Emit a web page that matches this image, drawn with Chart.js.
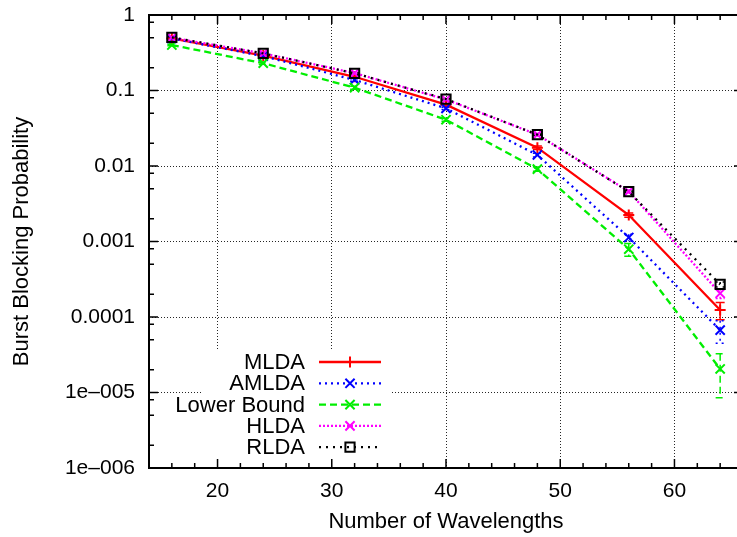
<!DOCTYPE html>
<html>
<head>
<meta charset="utf-8">
<script src="https://cdn.jsdelivr.net/npm/chart.js"></script>
<style>
html, body { margin: 0; padding: 0; background: #fff; overflow: hidden; }
#wrap { width: 760px; height: 537px; }
</style>
</head>
<body>
<div id="wrap"><canvas id="blockingChart" width="760" height="537"></canvas></div>
<script>
// values
var wavelengths = [16, 24, 32, 40, 48, 56, 64];
var mlda       = [0.49, 0.29, 0.152, 0.065, 0.0175, 0.00224, 0.000124];
var amlda      = [0.49, 0.285, 0.138, 0.058, 0.014, 0.00113, 0.000067];
var lowerBound = [0.40, 0.23, 0.109, 0.041, 0.0091, 0.00079, 0.0000205];
var hlda       = [0.50, 0.31, 0.17, 0.076, 0.026, 0.0046, 0.000206];
var rlda       = [0.505, 0.31, 0.169, 0.077, 0.026, 0.00457, 0.00027];

// error bar half-widths
var mldaErr  = [0.01, 0.008, 0.005, 0.002, 0.0009, 0.00015, 0.000032];
var amldaErr = [0.01, 0.008, 0.005, 0.002, 0.0008, 0.00012, 0.000022];
var lowerErr = [0.01, 0.008, 0.005, 0.002, 0.0006, 0.00015, 0.000012];
var hldaErr  = [0.01, 0.006, 0.004, 0.002, 0.001, 0.0002, 0.00003];
var rldaErr  = [0.01, 0.006, 0.003, 0.0015, 0.0005, 0.0001, 0.00002];

var seriesNames = ['MLDA', 'AMLDA', 'Lower Bound', 'HLDA', 'RLDA'];
var yTickValues = [1, 0.1, 0.01, 0.001, 0.0001, 0.00001, 0.000001];
var yTickLabels = ['1', '0.1', '0.01', '0.001', '0.0001', '1e\u2013005', '1e\u2013006'];
var xMajorStep = 10;

var FONT = "'Liberation Sans', Arial, Helvetica, sans-serif";

var styles = [
    { color: '#ff0000', dash: [],     point: 'cross',    radius: 5.5 },
    { color: '#0000ff', dash: [2, 4], point: 'crossRot', radius: 6.5 },
    { color: '#00ee00', dash: [7, 4], point: 'crossRot', radius: 6.5 },
    { color: '#ff00ff', dash: [2, 2], point: 'crossRot', radius: 6.5 },
    { color: '#000000', dash: [2, 5], point: 'rect',     radius: 6.5 }
];
var allValues = [mlda, amlda, lowerBound, hlda, rlda];
var allErrors = [mldaErr, amldaErr, lowerErr, hldaErr, rldaErr];

function toPoints(values) {
    return wavelengths.map(function (x, i) { return { x: x, y: values[i] }; });
}

// minor ticks like the gnuplot output: 2, 5, 8 within each decade
var yAllTicks = [];
yTickValues.forEach(function (d) {
    yAllTicks.push(d);
    if (d < 1) {
        yAllTicks.push(d * 2, d * 5, d * 8);
    }
});

var datasets = seriesNames.map(function (name, i) {
    var s = styles[i];
    return {
        label: name,
        data: toPoints(allValues[i]),
        borderColor: s.color,
        borderWidth: 2.3,
        borderDash: s.dash,
        pointStyle: s.point,
        pointRadius: s.radius,
        pointBorderWidth: 2,
        pointBorderColor: s.color,
        pointBackgroundColor: 'rgba(0,0,0,0)',
        fill: false,
        tension: 0,
        order: seriesNames.length - 1 - i
    };
});

function drawMarker(ctx, style, x, y, r) {
    ctx.beginPath();
    if (style === 'cross') {
        ctx.moveTo(x - r, y); ctx.lineTo(x + r, y);
        ctx.moveTo(x, y - r); ctx.lineTo(x, y + r);
    } else if (style === 'crossRot') {
        var o = r * Math.SQRT1_2;
        ctx.moveTo(x - o, y - o); ctx.lineTo(x + o, y + o);
        ctx.moveTo(x - o, y + o); ctx.lineTo(x + o, y - o);
    } else {
        var h = r * Math.SQRT1_2;
        ctx.rect(x - h, y - h, 2 * h, 2 * h);
    }
    ctx.stroke();
}

var gnuplotLook = {
    id: 'gnuplotLook',
    beforeDatasetsDraw: function (chart) {
        var ctx = chart.ctx, xs = chart.scales.x, ys = chart.scales.y, area = chart.chartArea;
        ctx.save();
        ctx.beginPath();
        ctx.rect(area.left, area.top, area.right - area.left, area.bottom - area.top);
        ctx.clip();
        allValues.forEach(function (vals, i) {
            ctx.strokeStyle = styles[i].color;
            ctx.lineWidth = 1.5;
            ctx.setLineDash(styles[i].dash);
            vals.forEach(function (v, j) {
                var e = allErrors[i][j];
                var px = xs.getPixelForValue(wavelengths[j]);
                var top = ys.getPixelForValue(v + e);
                var bot = ys.getPixelForValue(Math.max(v - e, 1e-7));
                ctx.beginPath();
                ctx.moveTo(px, top); ctx.lineTo(px, bot);
                ctx.moveTo(px - 4.5, top); ctx.lineTo(px + 4.5, top);
                ctx.moveTo(px - 4.5, bot); ctx.lineTo(px + 4.5, bot);
                ctx.stroke();
            });
        });
        ctx.restore();
    },
    afterDraw: function (chart) {
        var ctx = chart.ctx, xs = chart.scales.x, ys = chart.scales.y, area = chart.chartArea;
        ctx.save();

        // key, opaque like gnuplot's
        ctx.fillStyle = '#fff';
        ctx.fillRect(area.left + 52, 350, 190, area.bottom - 350 - 1);
        ctx.font = '22px ' + FONT;
        ctx.textAlign = 'right';
        ctx.textBaseline = 'middle';
        seriesNames.forEach(function (name, i) {
            var y = 362 + i * 21.3;
            var s = styles[i];
            ctx.fillStyle = '#000';
            ctx.fillText(name, area.left + 156, y + 1);
            ctx.strokeStyle = s.color;
            ctx.lineWidth = 2.3;
            ctx.setLineDash(s.dash);
            ctx.beginPath();
            ctx.moveTo(area.left + 170, y);
            ctx.lineTo(area.left + 232, y);
            ctx.stroke();
            ctx.setLineDash([]);
            ctx.lineWidth = 2;
            drawMarker(ctx, s.point, area.left + 201, y, s.radius);
        });

        // border and inward ticks on all four sides
        ctx.setLineDash([]);
        ctx.strokeStyle = '#000';
        ctx.lineWidth = 1.5;
        ctx.beginPath();
        xs.ticks.forEach(function (t) {
            var px = xs.getPixelForValue(t.value);
            var len = t.value % xMajorStep === 0 ? 9 : 5;
            ctx.moveTo(px, area.bottom); ctx.lineTo(px, area.bottom - len);
            ctx.moveTo(px, area.top); ctx.lineTo(px, area.top + len);
        });
        ys.ticks.forEach(function (t) {
            var py = ys.getPixelForValue(t.value);
            var len = yTickValues.indexOf(t.value) >= 0 ? 9 : 5;
            ctx.moveTo(area.left, py); ctx.lineTo(area.left + len, py);
            ctx.moveTo(area.right, py); ctx.lineTo(area.right - len, py);
        });
        ctx.stroke();
        ctx.lineWidth = 2;
        ctx.strokeRect(area.left, area.top, area.right - area.left, area.bottom - area.top);
        ctx.restore();
    }
};

var gridDots = 'rgba(0,0,0,0.85)';

var ctx = document.getElementById('blockingChart').getContext('2d');
var blockingChart = new Chart(ctx, {
    type: 'line',
    data: { datasets: datasets },
    options: {
        responsive: false,
        animation: false,
        layout: { padding: { top: 15, right: 17, left: 0, bottom: 0 } },
        plugins: {
            legend: { display: false },
            tooltip: { enabled: false }
        },
        scales: {
            x: {
                type: 'linear',
                min: 14,
                max: 66,
                afterFit: function (scale) {
                    scale.height = 69;
                    scale.paddingLeft = 0;
                    scale.paddingRight = 0;
                },
                ticks: {
                    stepSize: 2,
                    autoSkip: false,
                    maxRotation: 0,
                    padding: 11,
                    color: '#000',
                    font: { family: FONT, size: 21 },
                    callback: function (value) { return value % xMajorStep === 0 ? value : ''; }
                },
                grid: {
                    drawTicks: false,
                    lineWidth: 1,
                    color: function (c) {
                        return c.tick && c.tick.value % xMajorStep === 0 ? gridDots : 'rgba(0,0,0,0)';
                    }
                },
                border: { display: false, dash: [1, 2] },
                title: {
                    display: true,
                    text: 'Number of Wavelengths',
                    color: '#000',
                    font: { family: FONT, size: 22 },
                    padding: { top: 0, bottom: 2 }
                }
            },
            y: {
                type: 'logarithmic',
                min: 0.000001,
                max: 1,
                afterFit: function (scale) {
                    scale.width = 149;
                    scale.paddingTop = 0;
                    scale.paddingBottom = 0;
                },
                afterBuildTicks: function (scale) {
                    scale.ticks = yAllTicks.map(function (v) { return { value: v }; });
                },
                ticks: {
                    autoSkip: false,
                    padding: 14,
                    color: '#000',
                    font: { family: FONT, size: 21 },
                    callback: function (value) {
                        var i = yTickValues.indexOf(value);
                        return i >= 0 ? yTickLabels[i] : '';
                    }
                },
                grid: {
                    drawTicks: false,
                    lineWidth: 1,
                    color: function (c) {
                        return c.tick && yTickValues.indexOf(c.tick.value) >= 0 ? gridDots : 'rgba(0,0,0,0)';
                    }
                },
                border: { display: false, dash: [1, 2] },
                title: {
                    display: true,
                    text: 'Burst Blocking Probability',
                    color: '#000',
                    font: { family: FONT, size: 22 },
                    padding: { top: 9, bottom: 0 }
                }
            }
        }
    },
    plugins: [gnuplotLook]
});
</script>
</body>
</html>
